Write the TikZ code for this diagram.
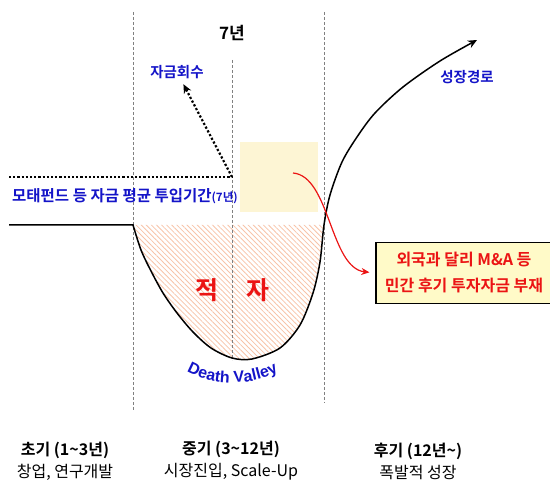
\documentclass[tikz,border=0pt]{standalone}
\usepackage{fontspec}
\newfontfamily\kr{Noto Sans CJK KR}[BoldFont={Noto Sans CJK KR Bold}]
\newfontfamily\lat{Liberation Sans}
\usetikzlibrary{arrows.meta, patterns.meta, decorations.text}
\definecolor{txtblue}{RGB}{20,20,200}
\definecolor{gapred}{RGB}{235,20,20}
\definecolor{hatchc}{RGB}{247,195,168}
\definecolor{paleyel}{RGB}{253,245,212}
\definecolor{boxyel}{RGB}{255,250,200}

\begin{document}
\begin{tikzpicture}[x=1pt, y=-1pt,
  phase/.style = {draw=gray, thin, dash pattern=on 3pt off 2pt},
  lbl/.style = {inner sep=0pt, text=txtblue, font=\kr\bfseries\fontsize{14.5}{16}\selectfont},
  stage/.style = {inner sep=0pt, align=center, font=\kr\fontsize{16}{22}\selectfont},
  big/.style = {inner sep=0pt, text=gapred, font=\kr\bfseries\fontsize{25}{30}\selectfont},
  dotline/.style = {line width=2.2pt, dash pattern=on 2.2pt off 2pt},
  tip/.style = {-{Stealth[length=9pt, width=8pt]}}
]
\useasboundingbox (0,0) rectangle (550,486);
\clip (0,0) rectangle (550,486);

% deficit area and late-stage funding block
\fill[pattern={Lines[angle=135, distance=3.6pt, line width=0.8pt]}, pattern color=hatchc]
  plot[smooth] coordinates {(133,225) (141,250) (151,271) (163,293) (177,313) (193,332)
    (211,348) (232,358) (252,359) (280,348) (300,325) (313,293) (320,262) (324,225)} -- cycle;
\node[fill=paleyel, minimum width=78, minimum height=70, inner sep=0pt] (late) at (279,177) {};

% stage boundaries
\draw[phase] (133,12) -- (133,410);
\draw[phase] (324,12) -- (324,403);
\draw[phase] (232,60) -- (232,360);

\node[font=\kr\bfseries\fontsize{17}{18}\selectfont] (span) at (232,33) {7년};
\node[lbl] (recov) at (177,72) {자금회수};
\node[lbl] (growth) at (467,77) {성장경로};
\node[lbl, anchor=west, font=\kr\bfseries\fontsize{15.5}{17}\selectfont] (fund) at (12,196)
  {모태펀드 등 자금 평균 투입기간{\fontsize{11.5}{12}\selectfont(7년)}};
\node[big] (jeok) at (207,290) {적};
\node[big] (ja) at (258,290) {자};
\node[draw, line width=1.2pt, fill=boxyel, minimum width=176, minimum height=61,
  align=center, text=gapred, font=\kr\bfseries\fontsize{16}{26}\selectfont] (gap) at (464,273)
  {외국과 달리 M\&A 등\\민간 후기 투자자금 부재};

\node[stage] (early) at (65,461) {\textbf{초기 (1\textasciitilde3년)}\\창업, 연구개발};
\node[stage] (middle) at (231,461) {\textbf{중기 (3\textasciitilde12년)}\\시장진입, Scale-Up};
\node[stage] (later) at (418,461) {\textbf{후기 (12년\textasciitilde)}\\폭발적 성장};

% average investment period and exit
\coordinate (exit) at (232,177);
\coordinate (latefund) at (293,173);
\draw[dotline] (9,177) -- (exit);
\draw[dotline, tip, shorten >=6pt] (exit) -- (recov);

% company path
\draw[line width=1.5pt, tip] (9,225) -- (133,225) -- plot[smooth] coordinates {(133,225)
  (141,250) (151,271) (163,293) (177,313) (193,332) (211,348) (232,358) (252,359)
  (280,348) (300,325) (313,293) (320,262) (324,225) (330,195) (342,162) (357,137)
  (375,113) (403,87) (440,61) (477,40)};

\draw[gapred, line width=1.2pt, -{Stealth[length=8pt, width=7pt]}, shorten >=6pt]
  (latefund) .. controls (330,176) and (330,268) .. (gap.west);

\path[decorate, decoration={text along path, text align=center,
  text={|\lat\bfseries\fontsize{16}{18}\selectfont\color{txtblue}|Death Valley}}]
  (184,370) .. controls (210,387) and (254,387) .. (281,370);
\end{tikzpicture}
\end{document}
